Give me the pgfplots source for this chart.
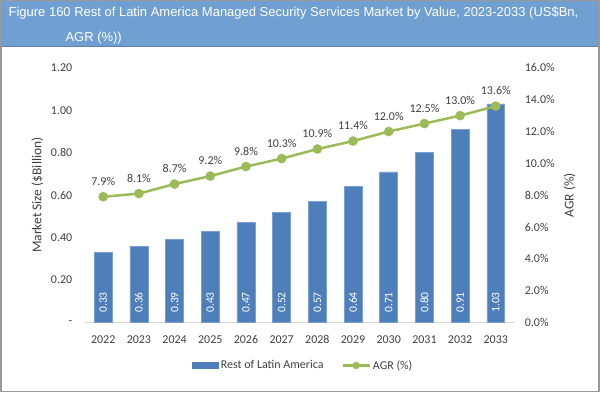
\documentclass[border=0pt]{standalone}
\usepackage{pgfplots}
\pgfplotsset{compat=1.18}
\usepackage{fontspec}
\setmainfont{Carlito}
\newfontfamily\arial{Liberation Sans}
\pgfkeys{/pgf/number format/assume math mode=true}
\definecolor{barblue}{RGB}{79,127,187}
\definecolor{baredge}{RGB}{120,160,210}
\definecolor{agrgreen}{RGB}{155,187,89}
\definecolor{titlebg}{RGB}{111,160,209}
\definecolor{titleedge}{RGB}{95,130,170}
\definecolor{txt}{RGB}{64,64,64}
\definecolor{axisgray}{RGB}{217,217,217}
\begin{document}
\begin{tikzpicture}
\fill[white] (0pt,0pt) rectangle (600pt,393pt);
\fill[titlebg] (0pt,346pt) rectangle (600pt,393pt);
\draw[titleedge, line width=1pt] (0pt,346pt) -- (600pt,346pt);
\draw[gray!80, line width=1.2pt] (0.6pt,0.6pt) rectangle (599.4pt,392.4pt);
\node[anchor=base west, text=white, inner sep=0pt, font=\arial\fontsize{13}{15}\selectfont] at (8pt,376pt) {Figure 160 Rest of Latin America Managed Security Services Market by Value, 2023-2033 (US\$Bn,};
\node[anchor=base west, text=white, inner sep=0pt, font=\arial\fontsize{13}{15}\selectfont] at (65pt,351pt) {AGR (\%))};

\begin{axis}[
  at={(85pt,70pt)}, anchor=south west, scale only axis,
  width=429pt, height=255pt,
  xmin=-0.5, xmax=11.5, ymin=0, ymax=1.2,
  axis x line*=bottom, axis y line*=left,
  x axis line style={draw=axisgray, line width=0.8pt, -},
  y axis line style={draw=none},
  major tick length=0pt,
  xtick={0,1,2,3,4,5,6,7,8,9,10,11},
  xticklabels={2022,2023,2024,2025,2026,2027,2028,2029,2030,2031,2032,2033},
  ytick={0,0.2,0.4,0.6,0.8,1.0,1.2},
  yticklabels={-\hspace{5pt},0.20,0.40,0.60,0.80,1.00,1.20},
  xticklabel style={anchor=north, inner sep=0pt, yshift=-13pt, font=\fontsize{12}{14}\selectfont, text=txt},
  yticklabel style={anchor=east, inner sep=0pt, xshift=-13pt, font=\fontsize{12}{14}\selectfont, text=txt},
  ylabel={Market Size (\$Billion)},
  ylabel style={at={(axis description cs:-0.112,0.5)}, anchor=center, font=\fontsize{13.5}{15}\selectfont, text=txt},
  legend style={at={(0.508,-0.169)}, anchor=center, legend columns=2, draw=none, fill=none,
    font=\fontsize{12}{14}\selectfont, text=txt,
    /tikz/every even column/.append style={column sep=16pt}},
]
\addplot[ybar, bar width=18pt, fill=barblue, draw=baredge, line width=0.6pt, forget plot]
coordinates {(0,0.33) (1,0.36) (2,0.39) (3,0.43) (4,0.47) (5,0.52) (6,0.57) (7,0.64) (8,0.71) (9,0.80) (10,0.91) (11,1.03)};
\addplot[draw=none, mark=none, forget plot, nodes near coords, point meta=explicit,
  nodes near coords style={rotate=90, anchor=center, text=white, inner sep=0pt, font=\fontsize{11.5}{13}\selectfont,
    /pgf/number format/.cd, fixed, precision=2, fixed zerofill}]
coordinates {(0,0.094) [0.33] (1,0.094) [0.36] (2,0.094) [0.39] (3,0.094) [0.43] (4,0.094) [0.47] (5,0.094) [0.52] (6,0.094) [0.57] (7,0.094) [0.64] (8,0.094) [0.71] (9,0.094) [0.80] (10,0.094) [0.91] (11,0.094) [1.03]};
\addlegendimage{legend image code/.code={\fill[barblue] (0pt,-3pt) rectangle (27pt,3pt);}}
\addlegendentry{Rest of Latin America}
\addlegendimage{legend image code/.code={\draw[agrgreen, line width=2.5pt] (0pt,0pt) -- (27pt,0pt); \fill[agrgreen] (13.5pt,0pt) circle (3.5pt);}}
\addlegendentry{AGR (\%)}
\end{axis}

\begin{axis}[
  at={(85pt,70pt)}, anchor=south west, scale only axis,
  width=429pt, height=255pt,
  xmin=-0.5, xmax=11.5, ymin=0, ymax=16,
  axis x line=none, axis y line*=right,
  y axis line style={draw=none},
  major tick length=0pt,
  ytick={0,2,4,6,8,10,12,14,16},
  yticklabels={0.0\%,2.0\%,4.0\%,6.0\%,8.0\%,10.0\%,12.0\%,14.0\%,16.0\%},
  yticklabel style={anchor=west, inner sep=0pt, xshift=11pt, font=\fontsize{12}{14}\selectfont, text=txt},
  ylabel={AGR (\%)},
  ylabel style={at={(axis description cs:1.1305,0.5)}, anchor=center, rotate=0, font=\fontsize{13.5}{15}\selectfont, text=txt},
]
\addplot[agrgreen, line width=2.5pt, mark=*, mark size=3.5pt, mark options={fill=agrgreen, draw=agrgreen},
  nodes near coords={\pgfmathprintnumber[fixed,precision=1,fixed zerofill]{\pgfplotspointmeta}\%},
  nodes near coords style={anchor=south, inner sep=0pt, yshift=10pt, text=txt, font=\fontsize{12}{14}\selectfont}]
coordinates {(0,7.9) (1,8.1) (2,8.7) (3,9.2) (4,9.8) (5,10.3) (6,10.9) (7,11.4) (8,12.0) (9,12.5) (10,13.0) (11,13.6)};
\end{axis}
\end{tikzpicture}
\end{document}
